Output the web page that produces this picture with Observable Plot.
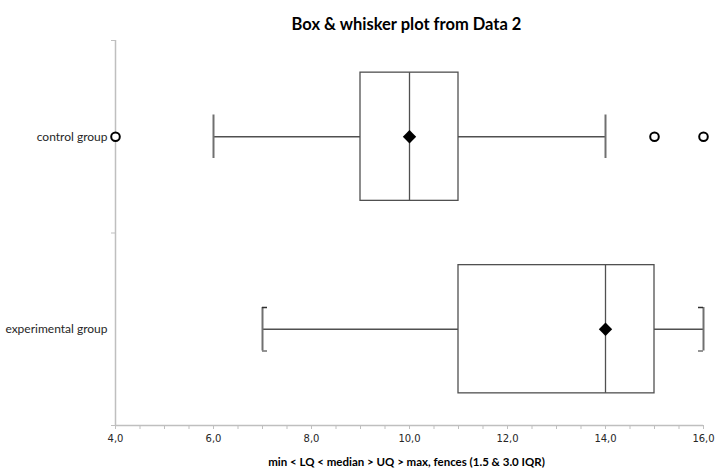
<!DOCTYPE html>
<html><head><meta charset="utf-8">
<script src="https://cdn.jsdelivr.net/npm/d3@7"></script>
<script src="https://cdn.jsdelivr.net/npm/@observablehq/plot@0.6"></script>
<style>body{margin:0;background:#fff}</style>
</head><body><div id="chart"></div>
<script>
const title = "Box & whisker plot from Data 2";
const xLabel = "min < LQ < median > UQ > max, fences (1.5 & 3.0 IQR)";
const groups = ["control group", "experimental group"];
const whiskerLow = [6, 7];
const lowerQuartile = [9, 11];
const medians = [10, 14];
const upperQuartile = [11, 15];
const whiskerHigh = [14, 16];
const means = [10, 14];
const capStyle = ["line", "bracket"];
const outlierGroup = ["control group", "control group", "control group"];
const outlierValue = [4, 15, 16];
const xMinorTicks = [4,4.5,5,5.5,6,6.5,7,7.5,8,8.5,9,9.5,10,10.5,11,11.5,12,12.5,13,13.5,14,14.5,15,15.5,16];
const xTickLabels = [4, 6, 8, 10, 12, 14, 16];

const stats = groups.map((g, i) => ({
  group: g, pos: i + 0.5,
  lo: whiskerLow[i], q1: lowerQuartile[i], med: medians[i],
  q3: upperQuartile[i], hi: whiskerHigh[i], mean: means[i], cap: capStyle[i]
}));
const outliers = outlierValue.map((v, i) => ({value: v, pos: groups.indexOf(outlierGroup[i]) + 0.5}));
const brackets = stats.filter(d => d.cap === "bracket");

const BOX = 0.333, CAP = 0.113;
const lineColor = "#505050", axisColor = "#bfbfbf";

const chart = Plot.plot({
  width: 716, height: 472,
  marginLeft: 115, marginRight: 13, marginTop: 40, marginBottom: 47,
  style: {fontFamily: "Lato", fontSize: "12px", background: "white", color: "#404040"},
  x: {domain: [4, 16]},
  y: {domain: [0, 2], reverse: true},
  marks: [
    Plot.ruleX([4], {stroke: axisColor, strokeWidth: 1.5}),
    Plot.ruleY([2], {stroke: axisColor, strokeWidth: 1.5}),
    Plot.axisX({ticks: xMinorTicks, tickSize: 4, tickPadding: 5, stroke: axisColor,
      tickFormat: d => xTickLabels.includes(d) ? d.toFixed(1).replace(".", ",") : "",
      fontFamily: "DejaVu Sans", fontSize: 10, fill: "#262626", label: null}),
    Plot.axisY({ticks: [0, 1, 2], tickSize: 4, stroke: axisColor, tickFormat: () => "", label: null}),
    Plot.axisY({ticks: [0.5, 1.5], tickSize: 0, tickPadding: 8, tickFormat: d => groups[Math.floor(d)],
      fontFamily: "Lato", fontSize: 12, fill: "#262626", label: null}),
    // whiskers
    Plot.ruleY(stats, {y: "pos", x1: "lo", x2: "q1", stroke: lineColor, strokeWidth: 1.3}),
    Plot.ruleY(stats, {y: "pos", x1: "q3", x2: "hi", stroke: lineColor, strokeWidth: 1.3}),
    // caps
    Plot.ruleX(stats, {x: "lo", y1: d => d.pos - CAP, y2: d => d.pos + CAP, stroke: "#707070", strokeWidth: 2}),
    Plot.ruleX(stats, {x: "hi", y1: d => d.pos - CAP, y2: d => d.pos + CAP, stroke: "#707070", strokeWidth: 2}),
    // bracket ends
    Plot.ruleY(brackets, {y: d => d.pos - CAP, x1: "lo", x2: "lo", insetRight: -5, stroke: "#303030", strokeWidth: 1.5}),
    Plot.ruleY(brackets, {y: d => d.pos + CAP, x1: "lo", x2: "lo", insetRight: -5, stroke: "#707070", strokeWidth: 1.5}),
    Plot.ruleY(brackets, {y: d => d.pos - CAP, x1: "hi", x2: "hi", insetLeft: -5, stroke: "#303030", strokeWidth: 1.5}),
    Plot.ruleY(brackets, {y: d => d.pos + CAP, x1: "hi", x2: "hi", insetLeft: -5, stroke: "#707070", strokeWidth: 1.5}),
    // boxes
    Plot.rectX(stats, {x1: "q1", x2: "q3", y1: d => d.pos - BOX, y2: d => d.pos + BOX, fill: "white", stroke: lineColor, strokeWidth: 1.3}),
    Plot.ruleX(stats, {x: "med", y1: d => d.pos - BOX, y2: d => d.pos + BOX, stroke: lineColor, strokeWidth: 1.3}),
    Plot.dot(stats, {x: "mean", y: "pos", symbol: "diamond2", r: 6, fill: "black", stroke: "none"}),
    Plot.dot(outliers, {x: "value", y: "pos", r: 4.3, fill: "white", stroke: "black", strokeWidth: 2}),
    Plot.text([title], {frameAnchor: "top", dy: -22, dx: -3, fontFamily: "Lato", fontWeight: "bold", fontSize: 16.5, fill: "black"}),
    Plot.text([xLabel], {frameAnchor: "bottom", dy: 40, dx: -3, fontFamily: "Lato", fontWeight: "bold", fontSize: 11.5, fill: "black"})
  ]
});
document.getElementById("chart").appendChild(chart);
</script>
</body></html>
